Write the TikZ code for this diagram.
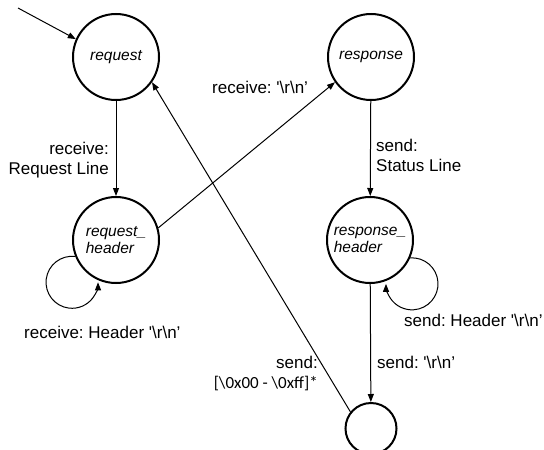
\documentclass[tikz,border=0pt]{standalone}
\usepackage{fontspec}
\setmainfont{Liberation Sans}
\newfontfamily\calib{Carlito}
\usetikzlibrary{arrows.meta}
\frenchspacing
\begin{document}
\begin{tikzpicture}[x=1pt,y=-1pt,
 state/.style={circle,draw,line width=2pt,minimum size=86pt,inner sep=0pt,
   font=\fontsize{15.5}{17.5}\selectfont\itshape,align=left},
 lbl/.style={font=\fontsize{17}{20}\selectfont\frenchspacing,inner sep=0pt},
 edge/.style={line width=1pt,-{Triangle[length=8pt,width=6pt]}}]
\useasboundingbox (0,0) rectangle (544,450);
\node[state] (req) at (116,57) {request};
\node[state] (rsp) at (371,57) {response};
\node[state] (rqh) at (116,240) {request\_\\header};
\node[state] (rsh) at (370,240) {response\_\\header};
\node[state,minimum size=51pt] (fin) at (371,428.5) {};
\coordinate (start) at (18,8);
\draw[edge] (start) -- (req.156);
\draw[edge] (req) -- (rqh);
\draw[edge] (rsp) -- (rsh);
\draw[edge] (rsh) -- (fin);
\draw[edge] (rqh.16) -- (rsp.215);
\draw[edge] (fin.141) -- (req.-35);
\draw[edge] (rqh.202) arc[start angle=-83,end angle=-360,radius=26];
\draw[edge] (rsh.-24) arc[start angle=-94,end angle=180,radius=26];
\node[lbl,anchor=east,align=right] (l1) at (109,160) {receive:\\Request Line};
\node[lbl,anchor=west] (l2) at (212,87) {receive: {\textquotesingle}\textbackslash r\textbackslash n'};
\node[lbl,anchor=west,align=left] (l3) at (376,155) {send:\\Status Line};
\node[lbl,anchor=west] (l4) at (404,320) {send: Header {\textquotesingle}\textbackslash r\textbackslash n'};
\node[lbl,anchor=west] (l5) at (377,362) {send: {\textquotesingle}\textbackslash r\textbackslash n'};
\node[lbl,anchor=west] (l6) at (24,332) {receive: Header {\textquotesingle}\textbackslash r\textbackslash n'};
\node[lbl,anchor=east,align=right] (l7) at (318,373) {send:\\{\calib [\textbackslash 0x00 - \textbackslash 0xff]*}};
\end{tikzpicture}
\end{document}
